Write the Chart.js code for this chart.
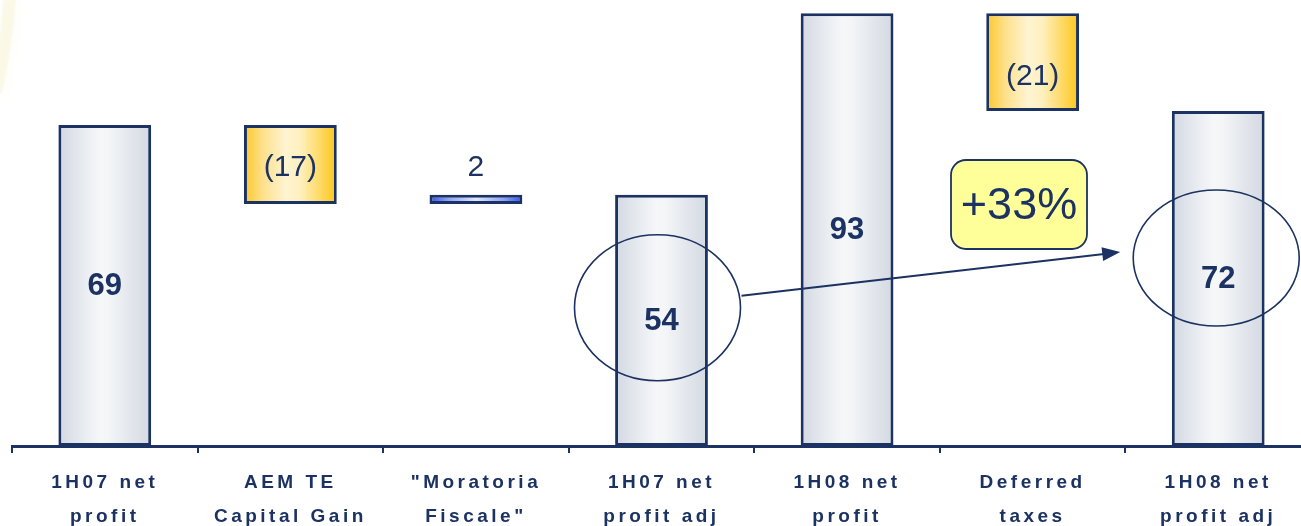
<!DOCTYPE html>
<html>
<head>
<meta charset="utf-8">
<script src="https://cdn.jsdelivr.net/npm/chart.js@4.4.1/dist/chart.umd.min.js"></script>
<style>
  html, body { margin: 0; padding: 0; background: #ffffff; overflow: hidden; }
  #wrap { width: 1311px; height: 526px; }
</style>
</head>
<body>
<div id="wrap"><canvas id="c" width="1311" height="526"></canvas></div>
<script>
// ---- data ----
const categories = [
  ['1H07 net', 'profit'],
  ['AEM TE', 'Capital Gain'],
  ['"Moratoria', 'Fiscale"'],
  ['1H07 net', 'profit adj'],
  ['1H08 net', 'profit'],
  ['Deferred', 'taxes'],
  ['1H08 net', 'profit adj']
];
const values = [69, -17, 2, 54, 93, -21, 72];
const kinds = ['total', 'delta', 'delta', 'total', 'total', 'delta', 'total'];
const growthLabel = '+33%';

// build floating ranges (waterfall)
const ranges = [];
let running = 0;
values.forEach((v, i) => {
  if (kinds[i] === 'total') { ranges.push([0, v]); running = v; }
  else { const s = running, e = running + v; ranges.push([Math.min(s, e), Math.max(s, e)]); running = e; }
});

const NAVY = '#1b3262';
const FONT = "Arial, 'Liberation Sans', sans-serif";

function barGradient(ctx, i, stops) {
  const chart = ctx.chart;
  const xs = chart.scales.x;
  if (!xs || !chart.chartArea) return stops[0][1];
  const cw = xs.width / categories.length;
  const w = cw * 0.5;
  const cx = xs.getPixelForValue(i);
  const g = chart.ctx.createLinearGradient(cx - w / 2, 0, cx + w / 2, 0);
  stops.forEach(s => g.addColorStop(s[0], s[1]));
  return g;
}
const GRAY = [[0, '#d2d8e1'], [0.2, '#e3e7ed'], [0.45, '#f6f7f9'], [0.55, '#f3f5f7'], [0.8, '#e1e5eb'], [1, '#d3d9e2']];
const GOLD = [[0, '#fcc728'], [0.2, '#fde089'], [0.45, '#fff4d2'], [0.6, '#fff0c0'], [0.85, '#fdd658'], [1, '#fec615']];
const BLUE = [[0, '#3452ea'], [0.2, '#8da2f6'], [0.5, '#dfe6ff'], [0.8, '#8ea3f6'], [1, '#3452ea']];

const labelPlugin = {
  id: 'labels',
  beforeDraw(chart) {
    const ctx = chart.ctx;
    // faint yellow glow in top-left corner
    ctx.save();
    ctx.strokeStyle = 'rgba(246,240,200,0.35)';
    ctx.lineWidth = 12;
    ctx.shadowColor = 'rgba(246,240,200,0.8)';
    ctx.shadowBlur = 14;
    ctx.beginPath();
    ctx.moveTo(10, -4);
    ctx.quadraticCurveTo(6, 50, -4, 92);
    ctx.stroke();
    ctx.restore();
    ctx.letterSpacing = '3.5px';
  },
  beforeDatasetsDraw(chart) {
    chart.ctx.letterSpacing = '0px';
  },
  afterDatasetsDraw(chart) {
    const ctx = chart.ctx;
    const xs = chart.scales.x, ys = chart.scales.y;
    ctx.save();
    ctx.letterSpacing = '0px';
    ctx.fillStyle = NAVY;
    ctx.textAlign = 'center';
    ctx.textBaseline = 'middle';
    values.forEach((v, i) => {
      const x = xs.getPixelForValue(i);
      const r = ranges[i];
      const yTop = ys.getPixelForValue(r[1]);
      const yBot = ys.getPixelForValue(r[0]);
      let y = (yTop + yBot) / 2;
      let txt;
      if (kinds[i] === 'total') {
        ctx.font = 'bold 31px ' + FONT;
        txt = String(v);
      } else {
        ctx.font = '30px ' + FONT;
        txt = v < 0 ? '(' + Math.abs(v) + ')' : String(v);
        if (yBot - yTop < 30) y = yTop - 28;
        else if (i === 5) y = y + 14;
        else y = y + 2;
      }
      ctx.fillText(txt, x, y + 1);
    });

    // ellipses around the two adjusted profits
    ctx.strokeStyle = NAVY;
    ctx.lineWidth = 1.6;
    const e1x = xs.getPixelForValue(3) - 4, e1y = ys.getPixelForValue(29.7);
    const e2x = xs.getPixelForValue(6) - 2, e2y = ys.getPixelForValue(40.4);
    ctx.beginPath(); ctx.ellipse(e1x, e1y, 83, 73, 0, 0, Math.PI * 2); ctx.stroke();
    ctx.beginPath(); ctx.ellipse(e2x, e2y, 83, 68, 0, 0, Math.PI * 2); ctx.stroke();

    // arrow
    const ax1 = e1x + 84, ay1 = e1y - 12;
    const ax2 = e2x - 96, ay2 = e2y - 6;
    const ang = Math.atan2(ay2 - ay1, ax2 - ax1);
    ctx.lineWidth = 2;
    ctx.beginPath(); ctx.moveTo(ax1, ay1); ctx.lineTo(ax2 - 14 * Math.cos(ang), ay2 - 14 * Math.sin(ang)); ctx.stroke();
    ctx.fillStyle = NAVY;
    ctx.beginPath();
    ctx.moveTo(ax2, ay2);
    ctx.lineTo(ax2 - 18 * Math.cos(ang) + 7 * Math.sin(ang), ay2 - 18 * Math.sin(ang) - 7 * Math.cos(ang));
    ctx.lineTo(ax2 - 18 * Math.cos(ang) - 7 * Math.sin(ang), ay2 - 18 * Math.sin(ang) + 7 * Math.cos(ang));
    ctx.closePath(); ctx.fill();

    // growth box
    const bx = 951, by = 160, bw = 136, bh = 89;
    ctx.fillStyle = '#ffff99';
    ctx.strokeStyle = NAVY;
    ctx.lineWidth = 1.8;
    ctx.beginPath(); ctx.roundRect(bx, by, bw, bh, 15); ctx.fill(); ctx.stroke();
    ctx.fillStyle = NAVY;
    ctx.font = '45px ' + FONT;
    ctx.fillText(growthLabel, bx + bw / 2, by + bh / 2 + 2);
    ctx.restore();
  }
};

new Chart(document.getElementById('c'), {
  type: 'bar',
  data: {
    labels: categories,
    datasets: [{
      data: ranges,
      backgroundColor: (ctx) => {
        const i = ctx.dataIndex;
        if (kinds[i] === 'total') return barGradient(ctx, i, GRAY);
        return values[i] < 0 ? barGradient(ctx, i, GOLD) : barGradient(ctx, i, BLUE);
      },
      borderColor: NAVY,
      borderWidth: 3,
      borderSkipped: false,
      barPercentage: 0.5,
      categoryPercentage: 1.0
    }]
  },
  options: {
    responsive: false,
    animation: false,
    events: [],
    layout: { padding: { left: 12, right: 0, top: 4, bottom: 0 } },
    plugins: { legend: { display: false }, tooltip: { enabled: false } },
    scales: {
      x: {
        offset: true,
        afterFit(scale) { scale.height = 80; },
        grid: { display: true, offset: true, drawOnChartArea: false, drawTicks: true, tickLength: 7, color: NAVY, lineWidth: 2 },
        border: { display: true, color: NAVY, width: 3 },
        ticks: {
          color: NAVY,
          padding: 12.5,
          maxRotation: 0,
          autoSkip: false,
          font: { family: FONT, size: 19, weight: 'bold', lineHeight: 1.79 }
        }
      },
      y: {
        display: false,
        min: 0,
        max: 95
      }
    }
  },
  plugins: [labelPlugin]
});
</script>
</body>
</html>
